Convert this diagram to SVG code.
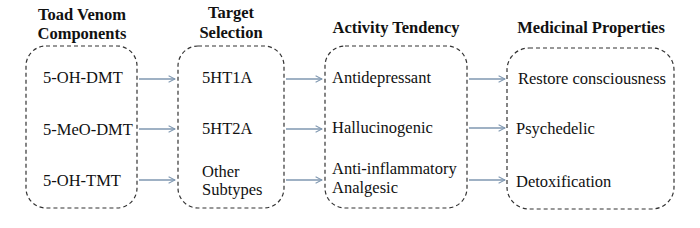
<svg xmlns="http://www.w3.org/2000/svg" width="700" height="228" viewBox="0 0 700 228">
<style>
.box{fill:none;stroke:#333;stroke-width:1.2;stroke-dasharray:4 3}
.hd{font-family:"Liberation Serif","Times New Roman",serif;font-weight:bold;font-size:16.5px;fill:#111;text-anchor:middle}
.t{font-family:"Liberation Serif","Times New Roman",serif;font-size:16.5px;fill:#111}
.c{stroke:#7f97b0;stroke-width:1.3;fill:none;marker-end:url(#ah)}
</style>
<defs>
<marker id="ah" viewBox="0 0 10 10" refX="9" refY="5" markerWidth="8" markerHeight="8" markerUnits="userSpaceOnUse" orient="auto">
<path d="M1,1 L9,5 L1,9" fill="none" stroke="#7f97b0" stroke-width="1.3"/>
</marker>
</defs>
<rect width="700" height="228" fill="#fff"/>
<g id="n1">
<text class="hd" x="82" y="20">Toad Venom</text>
<text class="hd" x="82" y="39">Components</text>
<rect class="box" x="26" y="46" width="111" height="162" rx="20"/>
<text class="t" x="43" y="83">5-OH-DMT</text>
<text class="t" x="43" y="135">5-MeO-DMT</text>
<text class="t" x="43" y="186">5-OH-TMT</text>
</g>
<g id="n2">
<text class="hd" x="231" y="18">Target</text>
<text class="hd" x="231" y="38">Selection</text>
<rect class="box" x="178" y="46" width="106" height="162" rx="20"/>
<text class="t" x="202" y="83">5HT1A</text>
<text class="t" x="202" y="134">5HT2A</text>
<text class="t" x="202" y="177">Other</text>
<text class="t" x="202" y="195">Subtypes</text>
</g>
<g id="n3">
<text class="hd" x="396" y="33">Activity Tendency</text>
<rect class="box" x="325" y="46" width="142" height="162" rx="20"/>
<text class="t" x="332" y="83">Antidepressant</text>
<text class="t" x="332" y="133">Hallucinogenic</text>
<text class="t" x="332" y="174">Anti-inflammatory</text>
<text class="t" x="332" y="193">Analgesic</text>
</g>
<g id="n4">
<text class="hd" x="591" y="33">Medicinal Properties</text>
<rect class="box" x="507" y="48" width="167" height="161" rx="22"/>
<text class="t" x="518" y="84">Restore consciousness</text>
<text class="t" x="516" y="134">Psychedelic</text>
<text class="t" x="516" y="187">Detoxification</text>
</g>
<g id="connectors">
<line class="c" x1="139" y1="79" x2="175" y2="79"/>
<line class="c" x1="139" y1="129" x2="175" y2="129"/>
<line class="c" x1="139" y1="180" x2="175" y2="180"/>
<line class="c" x1="286" y1="79" x2="322" y2="79"/>
<line class="c" x1="286" y1="129" x2="322" y2="129"/>
<line class="c" x1="286" y1="180" x2="322" y2="180"/>
<line class="c" x1="469" y1="79" x2="505" y2="79"/>
<line class="c" x1="469" y1="128" x2="505" y2="128"/>
<line class="c" x1="469" y1="180" x2="505" y2="180"/>
</g>
</svg>
